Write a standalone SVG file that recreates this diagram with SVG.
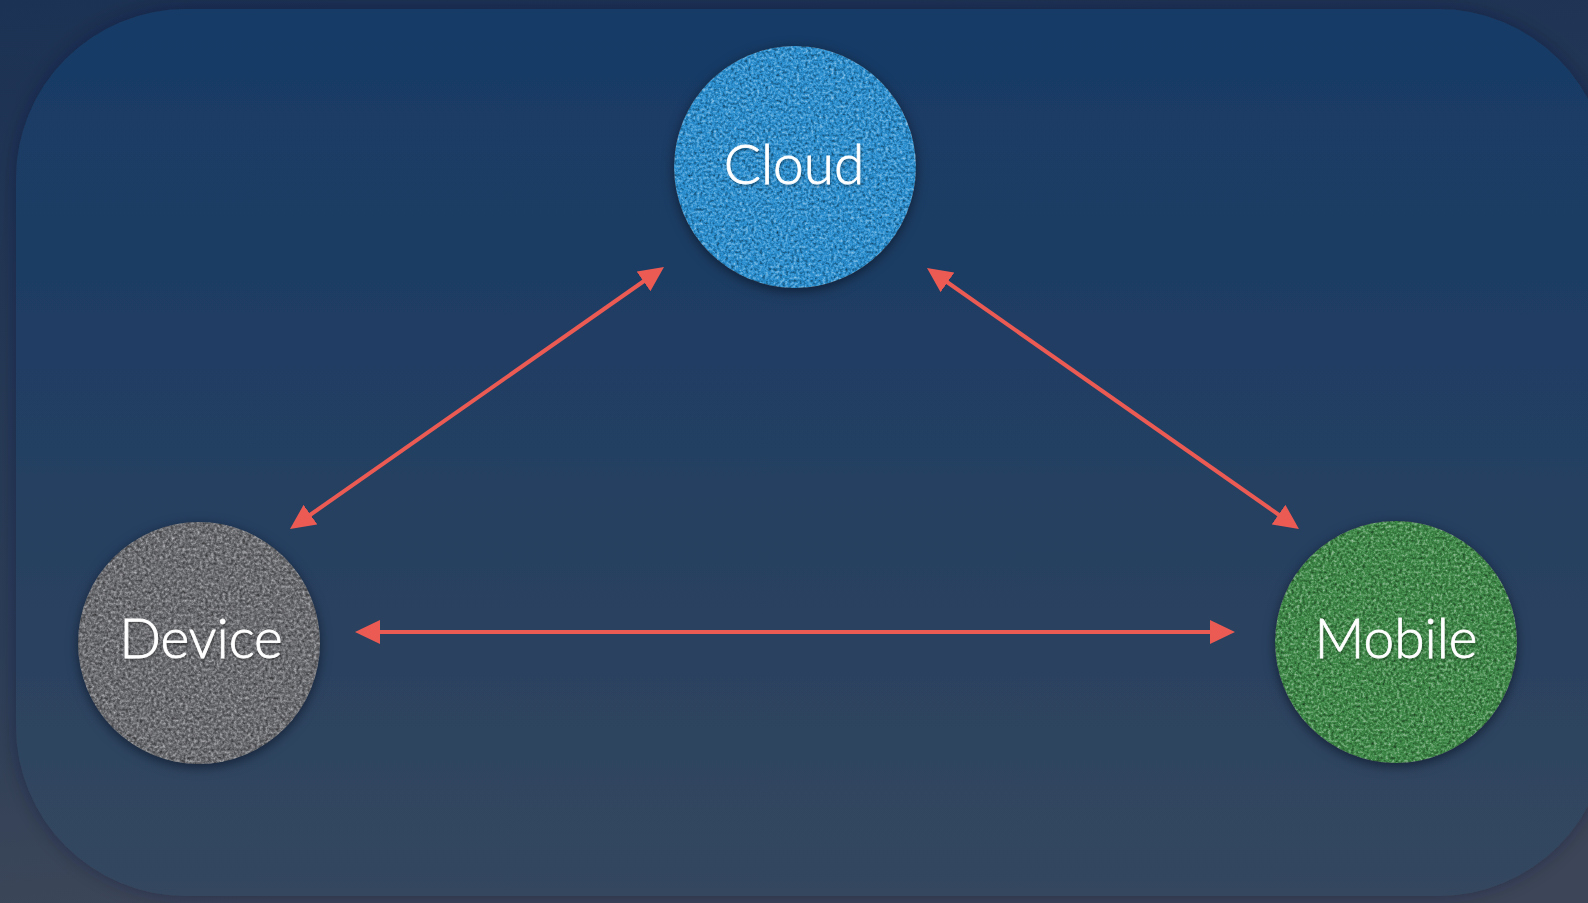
<svg xmlns="http://www.w3.org/2000/svg" width="1588" height="903" viewBox="0 0 1588 903">
<defs>
<linearGradient id="bg" x1="0" y1="0" x2="0.15" y2="1">
<stop offset="0" stop-color="#1c3254"/>
<stop offset="0.7" stop-color="#2c3e58"/>
<stop offset="1" stop-color="#3c4658"/>
</linearGradient>
<linearGradient id="panel" x1="0" y1="0" x2="0" y2="1">
<stop offset="0" stop-color="#173a66"/>
<stop offset="0.5" stop-color="#243f62"/>
<stop offset="1" stop-color="#34475f"/>
</linearGradient>
<filter id="panelShadow" x="-5%" y="-5%" width="110%" height="110%">
<feGaussianBlur in="SourceAlpha" stdDeviation="10" result="b"/>
<feFlood flood-color="#101a2c" flood-opacity="0.35"/>
<feComposite in2="b" operator="in" result="s"/>
<feMerge><feMergeNode in="s"/><feMergeNode in="SourceGraphic"/></feMerge>
</filter>
<filter id="tex" x="-20%" y="-20%" width="140%" height="140%" color-interpolation-filters="sRGB">
<feGaussianBlur in="SourceAlpha" stdDeviation="6" result="b"/>
<feOffset in="b" dy="3" result="sh"/>
<feFlood flood-color="#0b1426" flood-opacity="0.75"/>
<feComposite in2="sh" operator="in" result="shadow"/>
<feTurbulence type="fractalNoise" baseFrequency="0.35" numOctaves="3" seed="4" result="n"/>
<feColorMatrix in="n" type="saturate" values="0" result="ng"/>
<feComponentTransfer in="ng" result="nc">
<feFuncR type="linear" slope="0.8" intercept="0.1"/>
<feFuncG type="linear" slope="0.8" intercept="0.1"/>
<feFuncB type="linear" slope="0.8" intercept="0.1"/>
<feFuncA type="linear" slope="0" intercept="1"/>
</feComponentTransfer>
<feBlend in="SourceGraphic" in2="nc" mode="overlay" result="bl"/>
<feComposite in="bl" in2="SourceAlpha" operator="in" result="tx"/>
<feMerge><feMergeNode in="shadow"/><feMergeNode in="tx"/></feMerge>
</filter>
<filter id="txtShadow" x="-10%" y="-20%" width="120%" height="140%">
<feDropShadow dx="1" dy="2" stdDeviation="1.2" flood-color="#000" flood-opacity="0.3"/>
</filter>
<marker id="ah" viewBox="0 0 25 24" refX="5" refY="12" markerWidth="25" markerHeight="24" markerUnits="userSpaceOnUse" orient="auto-start-reverse">
<path d="M0,0 L25,12 L0,24 Z" fill="#ec5b53"/>
</marker>
<style>
.node text{font-family:Lato,"Open Sans","Liberation Sans",sans-serif;font-weight:300;font-size:55px;fill:#ffffff;stroke:#ffffff;stroke-width:0.8;text-anchor:middle;filter:url(#txtShadow)}
.conn line{stroke:#ec5b53;stroke-width:4;marker-start:url(#ah);marker-end:url(#ah)}
</style>
</defs>
<rect x="0" y="0" width="1588" height="903" fill="url(#bg)"/>
<rect x="16" y="9" width="1592" height="887" rx="170" ry="170" fill="url(#panel)" filter="url(#panelShadow)"/>
<g id="connectors" class="conn">
<line x1="306.4" y1="517.5" x2="647.6" y2="278.5"/>
<line x1="943.4" y1="279.5" x2="1282.6" y2="517.5"/>
<line x1="375" y1="632" x2="1215" y2="632"/>
</g>
<g id="cloud" class="node">
<circle cx="795" cy="167" r="121" fill="#2a8fd0" filter="url(#tex)"/>
<text x="794" y="184">Cloud</text>
</g>
<g id="device" class="node">
<circle cx="199" cy="643" r="121" fill="#6b6c70" filter="url(#tex)"/>
<text x="201" y="658">Device</text>
</g>
<g id="mobile" class="node">
<circle cx="1396" cy="642" r="121" fill="#3e8947" filter="url(#tex)"/>
<text x="1396" y="658">Mobile</text>
</g>
</svg>
